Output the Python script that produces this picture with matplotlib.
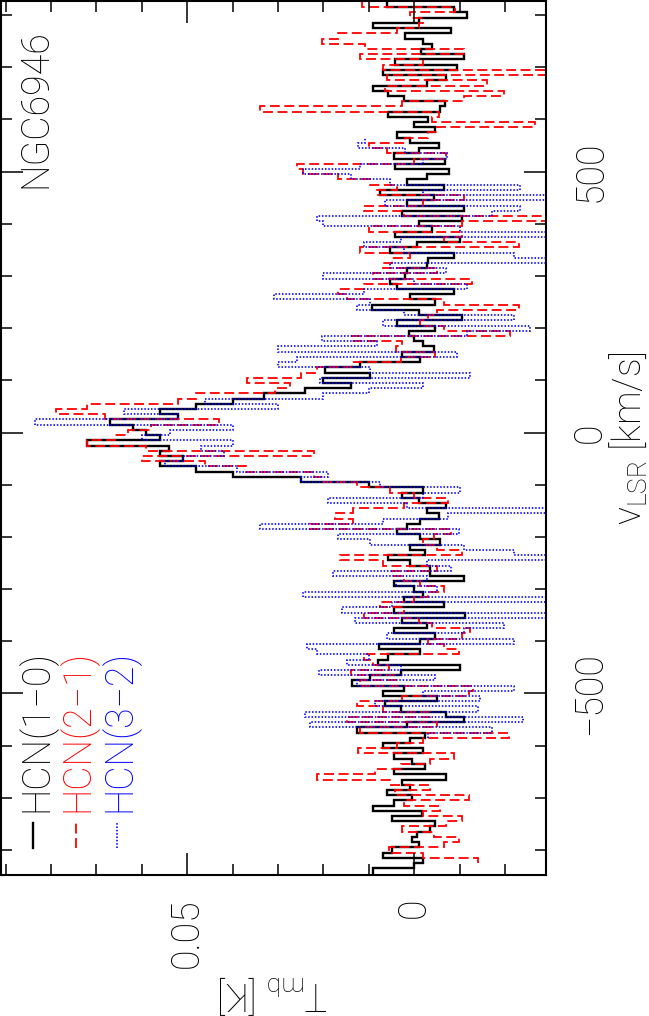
import numpy as np
import matplotlib
matplotlib.use("Agg")
import matplotlib.pyplot as plt
from matplotlib.ticker import MultipleLocator

plt.rcParams['font.family'] = ['Roboto', 'DejaVu Sans']
plt.rcParams['font.weight'] = 'light'
plt.rcParams['mathtext.fontset'] = 'custom'
plt.rcParams['mathtext.rm'] = 'Roboto:light'
plt.rcParams['axes.unicode_minus'] = True

# spectra in mK, 10 km/s channels, listed from the lowest velocity up
galaxy = "NGC6946"
line_names = ["HCN(1\u22120)", "HCN(2\u22121)", "HCN(3\u22122)"]

hcn10_v0 = -850
hcn10_mK = [9, 9, 0, -2, 7, 5, -1, 0.5, -0.6, -3.5,
            -4.6, 5, -1.7, 9, 4.5, 0.5, 6, 1, 2.7, -7,
            4.5, -2.4, 0.5, 4.5, -2, 7, 1, -2.4, 12.6, 1.6,
            -11, -7, 3, 6.4, -5, 7, 2.3, 13.7, 9.7, 3,
            -10, 8, 5.7, -1.3, 7.8, -1.3, -4.6, 4.5, -2.8, 2.7,
            -11.2, 4.5, -6.5, 2.3, -2, 0, 4.5, -10.9, -3.5, -3.5,
            0.9, 5.7, -2.4, 0.9, -5.7, -1.3, 3.8, 1.6, -1.3, -5.4,
            -2.8, -7, -1, 2.7, -2, 10, 25, 40, 48, 56,
            51, 56, 54, 72, 56, 59, 62, 67, 52, 56,
            48, 40, 33, 24, 14, 20, 9.7, 19.6, 12, -1.3,
            2.7, -4.3, -2, 0, 1.2, -4.6, 3.8, -10.5, -1, 9.3,
            -4.6, 0.9, -8.7, 3.8, 5.3, 2, 1.6, -2.8, -3, -8.7,
            5.3, -0.6, -10, 4.2, -3.9, -1, -10.5, 2.7, -10.9, 1.6,
            -4.3, 7.5, -6.5, 1.6, -2.8, -7.6, 4.2, -6.8, 4.5, -1,
            -5.4, 0.9, 3.8, -4.6, 0, -3, 5.7, -5.7, -6.8, 2.3,
            5.7, 9, -2.8, -7, 6.8, -9.4, 4.2, -10.9, -1.5, -4,
            -2, 2, -8, 9, -1, -11.6, -8.7, 6]

hcn21_v0 = -820
hcn21_mK = [-14, -2, 5.6, -6.5, -9.8, -4.3, 2.7, -7, -10.5, -2,
            -5.7, 2.3, -12, 4.2, -3.5, 5.3, 21.4, 8.6, 3, -3.5,
            -8.7, 12.3, 3.8, -2, -20.8, 12, -5, 14.8, -3.5, 6.8,
            12.6, 2.7, -12, -13, 12, 4, 14, 5.6, 9, 11,
            -9.8, -6.5, -3, -10.5, -12.3, -4, -1, 11, 2.3, 7.5,
            0, -3, -6.5, -1.3, 2.3, 4.9, -5, 6.8, 16.3, -10.5,
            -5, -2, -4.3, -8, 23, 13.4, 17.4, 13.4, 2.3, -7.5,
            0, 5.3, 12.6, 20, 22, 37, 46, 60, 22, 59,
            72, 66, 63, 58, 43, 68, 79, 72, 52, 48,
            30.6, 27.3, 36.8, 25, 21.4, 13.7, 3, -4.6, 4, 2.7,
            13.7, -21, -6.5, -1.3, -3, -5, -23, -6.5, 14.8, 16.7,
            11, -12.7, 9, -5, 6.8, 5, 1, 12, -23, -6.5,
            -10.5, 10, -10.5, -29, 2.3, 11, -2, -10.9, 8.2, 3.8,
            9.7, 16.7, 24.4, 25.8, 0, -7, 6, 10, 2, -3,
            -5, -26.5, -4, -5.4, 34, 2.7, -10.9, -19.7, 6.4, -16,
            6, -29, 7, -2, 12, -10.9, 10.8, 20.3, 16.7, 3.8,
            -1, -2, 1, -9, 11.5]

hcn32_v0 = -580
hcn32_mK = [-3, -17, 23, -24, 24, -14, 8.6, -14.5, -2, -22,
            12.6, -4.6, 21, 3, 14.8, 10, 21.4, 23.6, -22, 6,
            -11, -19.7, 13, -29, 16, 5, -29, 24.4, -5, 4,
            -2.8, 17.8, -8, -2.8, -29, -22, -11, 9.7, 16.7, -9.8,
            34, 7, -7.5, -29, 1.6, 19, -2, -10, 7.5, 25,
            19, 39, 55, 51, 42, 47, 40, 60, 53.7, 40,
            83.5, 52, 64, 30, 46, 20, 10, -2, 20.7, -12.3,
            9.7, 30, 25.8, -9.4, 30, 8.2, 20.3, -11.6, -25.5, 6.8,
            -22, 2.3, 12.6, 9.7, 31, 11, -11.6, 0, 20, -7,
            5.3, -29, -22, 2.3, 11, 3, -29, -10, 20, 21.4,
            -17, -23.3, 6.4, -29, -2, -23.3, 5.3, 14, 24.4, 12,
            -2, -7.2, 2, 12.3, 10.8]

dv = 10.0


def channel_edges(v0, n):
    # channel centres start at v0, edges half a channel either side
    return v0 - dv / 2 + dv * np.arange(n + 1)


fig = plt.figure(figsize=(6.49, 10.16), dpi=100)
ax = fig.add_axes([1 / 649, 141 / 1016, 545 / 649, 874 / 1016])


def ax_xy(px, py):
    # pixel position in the picture -> axes fraction
    return (px - 1) / 545, (875 - py) / 874


black_style = dict(color='black', lw=1.7)
red_style = dict(color='#ff0000', lw=1.3, linestyle=(0, (5.5, 2.5)))
blue_style = dict(color='#0000ff', lw=1.2, linestyle=(0, (0.9, 1.1)))

# spectrum is drawn turned on its side: T_mb runs right-to-left, v_LSR upwards
ax.stairs(np.array(hcn10_mK) / 1000, channel_edges(hcn10_v0, len(hcn10_mK)),
          orientation='horizontal', baseline=None, **black_style)
ax.stairs(np.array(hcn21_mK) / 1000, channel_edges(hcn21_v0, len(hcn21_mK)),
          orientation='horizontal', baseline=None, **red_style)
ax.stairs(np.array(hcn32_mK) / 1000, channel_edges(hcn32_v0, len(hcn32_mK)),
          orientation='horizontal', baseline=None, **blue_style)

ax.set_xlim(0.091, -0.029)
ax.set_ylim(-848, 827)

ax.set_xticks([0.05, 0.0])
ax.set_xticklabels(['0.05', '0'])
ax.xaxis.set_minor_locator(MultipleLocator(0.01))
ax.set_yticks([-500, 0, 500])
ax.set_yticklabels(['\u2212500', '0', '500'])
ax.yaxis.set_minor_locator(MultipleLocator(100))

ax.tick_params(which='both', direction='in', top=True, bottom=True,
               left=True, right=True, labelleft=False, labelright=True,
               width=1.1, colors='black')
ax.tick_params(which='major', length=16)
ax.tick_params(which='minor', length=8)
ax.tick_params(axis='x', pad=16.5, labelsize=27)
ax.tick_params(axis='y', pad=18.5, labelsize=27)
for lbl in ax.get_xticklabels():
    lbl.set_rotation(90)
    lbl.set_rotation_mode('default')
    lbl.set_ha('center')
    lbl.set_va('top')
    lbl.set_fontweight('light')
for lbl in ax.get_yticklabels():
    lbl.set_rotation(90)
    lbl.set_rotation_mode('default')
    lbl.set_ha('left')
    lbl.set_va('center')
    lbl.set_fontweight('light')

for sp in ax.spines.values():
    sp.set_linewidth(1.5)

ax.set_xlabel('T$_{\\rm mb}$ [K]', rotation=180, fontsize=27,
              fontweight='light', va='center', ha='center')
ax.xaxis.set_label_coords(0.5, (875 - 995) / 874)
ax.yaxis.set_label_position('right')
ax.set_ylabel('v$_{\\rm LSR}$ [km/s]', rotation=90, fontsize=27,
              fontweight='light', va='center', ha='center',
              rotation_mode='default')
ax.yaxis.set_label_coords((628 - 1) / 545, 0.5)

# galaxy name
gx, gy = ax_xy(36, 188)
ax.text(gx, gy, galaxy, rotation=90, ha='center', va='bottom', fontsize=27,
        transform=ax.transAxes)

# hand-made legend, same turned layout
styles = [black_style, red_style, blue_style]
text_x = [36, 77, 119]
line_x = [33, 76, 117]
for name, st, tx, lx in zip(line_names, styles, text_x, line_x):
    x0, y0 = ax_xy(lx, 848)
    x1, y1 = ax_xy(lx, 823)
    ax.plot([x0, x1], [y0, y1], transform=ax.transAxes, clip_on=False, **st)
    px, py = ax_xy(tx, 812)
    ax.text(px, py, name, rotation=90, ha='center', va='bottom', fontsize=27,
            color=st['color'], transform=ax.transAxes)

fig.savefig('out.png', dpi=100)
